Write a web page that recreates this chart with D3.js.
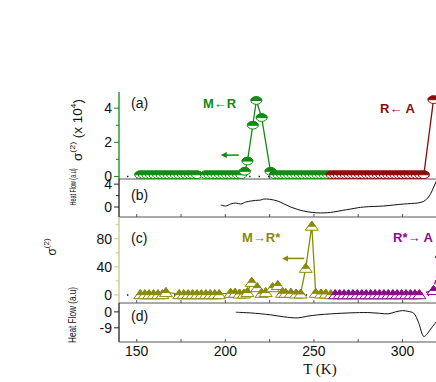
<!DOCTYPE html>
<html>
<head>
<meta charset="utf-8">
<script src="https://cdn.jsdelivr.net/npm/d3@7"></script>
<style>
  html, body { margin: 0; padding: 0; background: #fff; }
  svg { display: block; font-family: "Liberation Sans", Arial, sans-serif; }
</style>
</head>
<body>
<svg id="chart" width="436" height="382"></svg>
<script>
// panel (a): second-harmonic signal, cooling (M<-R) and heating (R<-A), x10^4
const coolT = [152,154,156,158,160,162,164,166,168,170,172,174,176,178,180,182,184,
  189,191,193,195,197,199,201,203,205,207,209,
  211,212.5,215.5,217.5,220.5,225.5,
  228,230,232,234,236,238,240,242,244,246,248,250,252,254,256,258];
const coolS = [0.1,0.1,0.1,0.1,0.1,0.1,0.1,0.1,0.1,0.1,0.1,0.1,0.1,0.1,0.1,0.1,0.1,
  0.1,0.1,0.1,0.1,0.1,0.1,0.1,0.1,0.1,0.1,0.1,
  0.3,0.9,3.0,4.45,3.45,0.3,
  0.1,0.1,0.1,0.1,0.1,0.1,0.1,0.1,0.1,0.1,0.1,0.1,0.1,0.1,0.1,0.1];
const heatT = [260,262,264,266,268,270,272,274,276,278,280,282,284,286,288,290,292,294,296,298,300,302,304,306,308,310,312,317.5];
const heatS = [0.1,0.1,0.1,0.1,0.1,0.1,0.1,0.1,0.1,0.1,0.1,0.1,0.1,0.1,0.1,0.1,0.1,0.1,0.1,0.1,0.1,0.1,0.1,0.1,0.1,0.1,0.1,4.5];

// panel (b): heat flow
const dscBT = [197.4,200.2,203,205.9,208.7,211.5,214.3,217,220,221.7,225,229.6,233,236.9,240.5,244.2,249,253.8,257.5,261.2,266,270.8,274.5,278.1,284,289.4,295,300.7,305,308.6,312,314.2,316,317.6,319.3,321];
const dscBV = [0.35,0.17,0.52,0.7,0.52,0.87,1.04,1.15,1.22,1.39,1.35,1.04,0.55,0,-0.4,-0.7,-0.95,-1.04,-1.0,-0.87,-0.6,-0.35,-0.15,0,0.1,0.17,0.35,0.52,0.62,0.7,1.0,1.57,2.4,3.5,4.7,5.8];

// panel (c): second-harmonic signal, M->R* (olive) and R*->A (purple)
const olT = [152,154.5,157,159.5,162,164.5,166.5,174,176.5,179,181.5,184,186.5,189,191.5,194,196.5,
  203,205.5,208,210.5,212.5,214.9,218,220.5,222.8,226.7,229.6,232,234,237,240,242.5,245.4,248.8,251,254,256.7,259.5];
const olS = [1,1,1,1,1,1,4,1,1,1,1,1,1,1,1,1,1,
  3,3,2,2,4,18.6,11,3,4,11,14,3,3,3,2,2,38.6,98.6,3,2,2,1];
const puT = [262,264.5,267,269.5,272,274.5,277,279.5,282,284.5,287,289.5,292,294.5,297,299.5,302,304.5,307,309.5,317.5,322];
const puS = [1,1,1,1,1,1,1,1,1,1,1,1,1,1,1,1,1,1,1,1,7,60];

// panel (d): heat flow
const dscDT = [205.9,210,214.3,220,225.6,233,240.9,246,252.1,260,270.8,280.4,287,292.2,296,300.1,303,306.3,309.1,312,314.2,317,319.3,322];
const dscDV = [-0.2,-0.4,-0.6,-1.1,-1.7,-2.8,-3.4,-2.5,-1.7,-1.1,-0.56,-0.4,-0.8,-1.1,0,0.7,0.3,-0.75,-6.2,-13.9,-12,-8.2,-5.4,-3];

const xTicks = [150, 200, 250, 300];
const xMinor = [175, 225, 275, 325];

const green = "#118a11", darkRed = "#8b0a0a", olive = "#8a8a08", purple = "#8b0a8b";

const svg = d3.select("#chart");
const x = d3.scaleLinear().domain([140, 330]).range([119, 455.7]);

const panels = {
  a: { top: 92, bottom: 179, domain: [-0.15, 4.95], major: [0, 2, 4], minor: [1, 3], spine: green },
  b: { top: 179, bottom: 217, domain: [-1.75, 4.9], major: [0, 4], minor: [2], spine: "#222" },
  c: { top: 217, bottom: 303, domain: [-11.5, 111], major: [0, 40, 80], minor: [20, 60, 100], spine: "#c9c48a" },
  d: { top: 303, bottom: 342, domain: [-17, 5], major: [-9, 0], minor: [], spine: "#222" }
};
Object.values(panels).forEach(p => {
  p.y = d3.scaleLinear().domain(p.domain).range([p.bottom, p.top]);
});

// axes: left spine + ticks, bottom line + x ticks
Object.entries(panels).forEach(([key, p]) => {
  const g = svg.append("g");
  g.append("line").attr("x1", 119).attr("x2", 119).attr("y1", p.top).attr("y2", p.bottom)
    .attr("stroke", p.spine).attr("stroke-width", 1.3);
  g.selectAll(".maj").data(p.major).join("line")
    .attr("x1", 114).attr("x2", 119).attr("y1", d => p.y(d)).attr("y2", d => p.y(d))
    .attr("stroke", p.spine);
  g.selectAll(".min").data(p.minor).join("line")
    .attr("x1", 116).attr("x2", 119).attr("y1", d => p.y(d)).attr("y2", d => p.y(d))
    .attr("stroke", p.spine);
  g.selectAll("text").data(p.major).join("text")
    .attr("x", 112).attr("y", d => p.y(d)).attr("dy", "0.36em")
    .attr("text-anchor", "end").attr("font-size", 14).attr("fill", "#111")
    .text(d => d);
  g.append("line").attr("x1", 119).attr("x2", 436).attr("y1", p.bottom).attr("y2", p.bottom)
    .attr("stroke", "#555").attr("stroke-width", 1);
  g.selectAll(".xt").data(xTicks.concat(xMinor)).join("line")
    .attr("x1", d => x(d)).attr("x2", d => x(d))
    .attr("y1", p.bottom).attr("y2", p.bottom - 3)
    .attr("stroke", "#555");
});

// x tick labels and title
svg.append("g").selectAll("text").data(xTicks).join("text")
  .attr("x", d => x(d)).attr("y", 356)
  .attr("text-anchor", "middle").attr("font-size", 14).attr("fill", "#111")
  .text(d => d);
svg.append("text").attr("x", x(250) + 6).attr("y", 374)
  .attr("text-anchor", "middle").attr("font-family", "'Liberation Serif', 'Times New Roman', serif")
  .attr("font-size", 15).attr("fill", "#111").text("T (K)");

// y titles
const yt1 = svg.append("text").attr("transform", "translate(82,130) rotate(-90)")
  .attr("text-anchor", "middle").attr("font-size", 12).attr("fill", "#111")
  .attr("textLength", 62).attr("lengthAdjust", "spacingAndGlyphs");
yt1.append("tspan").text("σ");
yt1.append("tspan").attr("dy", -7).attr("font-size", 8).text("(2)");
yt1.append("tspan").attr("dy", 7).text(" (x 10");
yt1.append("tspan").attr("dy", -6).attr("font-size", 8).text("4");
yt1.append("tspan").attr("dy", 6).text(")");

const yt2 = svg.append("text").attr("transform", "translate(56,247) rotate(-90)")
  .attr("text-anchor", "middle").attr("font-size", 12).attr("fill", "#111");
yt2.append("tspan").text("σ");
yt2.append("tspan").attr("dy", -7).attr("font-size", 8).text("(2)");

[[187, 9, 37], [315, 11, 56]].forEach(([cy, fs, len]) => {
  svg.append("text").attr("transform", `translate(76,${cy}) rotate(-90)`)
    .attr("text-anchor", "middle").attr("font-size", fs).attr("fill", "#111")
    .attr("textLength", len).attr("lengthAdjust", "spacingAndGlyphs")
    .text("Heat Flow (a.u)");
});

// panel letters
[["(a)", 103], ["(b)", 195], ["(c)", 238], ["(d)", 316]].forEach(([t, yy]) => {
  svg.append("text").attr("x", 131).attr("y", yy).attr("dy", "0.35em")
    .attr("font-size", 14).attr("fill", "#111").text(t);
});

// dotted zero lines
["a", "c"].forEach(k => {
  const p = panels[k];
  svg.append("line").attr("x1", 127).attr("x2", 436)
    .attr("y1", p.y(0)).attr("y2", p.y(0))
    .attr("stroke", "#111").attr("stroke-width", 1.6)
    .attr("stroke-dasharray", "1.4,8");
});

// marker shapes
const ellFull = "M-5.5,0A5.5,3.8 0 1,0 5.5,0A5.5,3.8 0 1,0 -5.5,0Z";
const ellTop = "M-5.5,0A5.5,3.8 0 0,1 5.5,0Z";
const tw = 6.5, th = 9, tf = 0.55;
const triFull = `M0,${-th / 2}L${tw},${th / 2}L${-tw},${th / 2}Z`;
const triTop = `M0,${-th / 2}L${tw * tf},${-th / 2 + th * tf}L${-tw * tf},${-th / 2 + th * tf}Z`;

function series(p, ts, vs, color, shape, dashed) {
  const pts = ts.map((t, i) => [t, vs[i]]);
  const g = svg.append("g");
  g.append("path").datum(pts)
    .attr("d", d3.line().x(d => x(d[0])).y(d => p.y(d[1])))
    .attr("fill", "none").attr("stroke", color).attr("stroke-width", 1.3)
    .attr("stroke-dasharray", dashed ? "4,3" : null);
  const m = g.selectAll("g").data(pts).join("g")
    .attr("transform", d => `translate(${x(d[0])},${p.y(d[1])})`);
  m.append("path").attr("d", shape === "ell" ? ellFull : triFull)
    .attr("fill", "#fff").attr("stroke", color).attr("stroke-width", 1);
  m.append("path").attr("d", shape === "ell" ? ellTop : triTop)
    .attr("fill", color).attr("stroke", color).attr("stroke-width", 1);
}

series(panels.a, coolT, coolS, green, "ell", false);
series(panels.a, heatT, heatS, darkRed, "ell", false);
series(panels.c, olT, olS, olive, "tri", false);
series(panels.c, puT, puS, purple, "tri", true);

// heat flow curves
[["b", dscBT, dscBV], ["d", dscDT, dscDV]].forEach(([k, ts, vs]) => {
  const p = panels[k];
  svg.append("path").datum(ts.map((t, i) => [t, vs[i]]))
    .attr("d", d3.line().x(d => x(d[0])).y(d => p.y(d[1])).curve(d3.curveCatmullRom))
    .attr("fill", "none").attr("stroke", "#111").attr("stroke-width", 1);
});

// annotations
function arrow(x1, x2, yy, color) {
  svg.append("line").attr("x1", x1).attr("x2", x2 + 4).attr("y1", yy).attr("y2", yy)
    .attr("stroke", color).attr("stroke-width", 1.5);
  svg.append("path").attr("d", `M${x2},${yy}L${x2 + 6},${yy - 3}L${x2 + 6},${yy + 3}Z`)
    .attr("fill", color);
}
arrow(x(207.6), x(197.4), panels.a.y(1.25), green);
arrow(x(244.5), x(232), panels.c.y(52), olive);

svg.append("text").attr("x", 203).attr("y", 108).attr("font-size", 13).attr("font-weight", "bold")
  .attr("fill", green).text("M\u2190R");
svg.append("text").attr("x", 380).attr("y", 113).attr("font-size", 13).attr("font-weight", "bold")
  .attr("fill", darkRed).text("R\u2190 A");
svg.append("text").attr("x", 242).attr("y", 242).attr("font-size", 13).attr("font-weight", "bold")
  .attr("fill", olive).text("M\u2192R*");
svg.append("text").attr("x", 393).attr("y", 242).attr("font-size", 13).attr("font-weight", "bold")
  .attr("fill", purple).text("R*\u2192 A");
</script>
</body>
</html>
